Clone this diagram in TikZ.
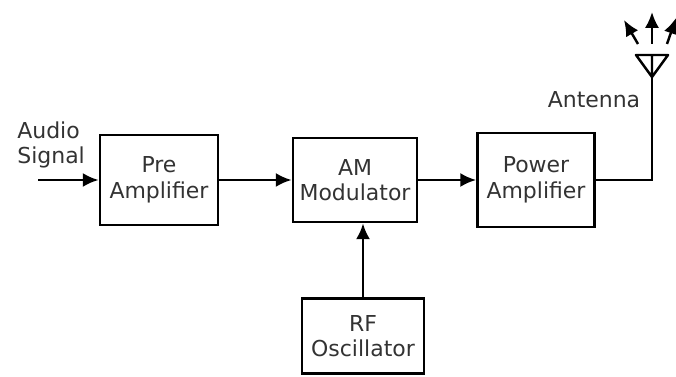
\documentclass[tikz,border=0pt]{standalone}
\usepackage{fontspec}
\setmainfont{DejaVu Sans}
\usetikzlibrary{arrows.meta}
\tikzset{
  blk/.style={draw,line width=1.6pt,align=center,inner sep=0pt,text=black!80,font=\fontsize{12.5}{14.5}\selectfont},
  lbl/.style={inner sep=0pt,text=black!80,font=\fontsize{12.5}{14.5}\selectfont},
  sig/.style={line width=1.4pt,-{Latex[length=9pt,width=8pt]}}
}
\begin{document}
\begin{tikzpicture}[x=.02cm,y=-.02cm]
  \useasboundingbox(0,0)rectangle(676,377);
  \node[blk,minimum width=118*.02cm,minimum height=90*.02cm](pre)at(159,180){Pre\\Amplifier};
  \node[blk,minimum width=124*.02cm,minimum height=84*.02cm](am)at(355,180){AM\\Modulator};
  \node[blk,minimum width=117*.02cm,minimum height=94*.02cm](pa)at(536,180){Power\\Amplifier};
  \node[blk,minimum width=122*.02cm,minimum height=75*.02cm](rf)at(363,336){RF\\Oscillator};
  \node[lbl,align=left,anchor=north west](aud)at(17,121){Audio\\Signal};
  \node[lbl](antxt)at(594,100){Antenna};
  \coordinate(src)at(38,180);
  \coordinate(ant)at(652,77);
  \draw[sig](src)--(pre);
  \draw[sig](pre)--(am);
  \draw[sig](am)--(pa);
  \draw[sig](rf.north)--(rf.north|-am.south);
  \draw[line width=1.4pt](pa.east)-|(ant);
  \draw[line width=1.4pt,line join=round](636,55)--(668,55)--(ant)--cycle (652,55)--(ant);
  \draw[sig](652,44)--(652,12);
  \draw[sig](638,44)--(624,20);
  \draw[sig](667,44)--(676,18);
\end{tikzpicture}
\end{document}
